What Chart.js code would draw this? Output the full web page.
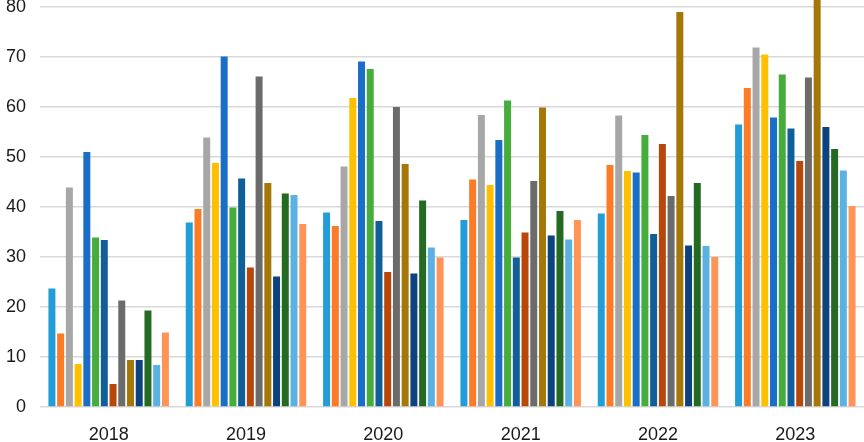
<!DOCTYPE html>
<html>
<head>
<meta charset="utf-8">
<script src="https://cdn.jsdelivr.net/npm/chart.js@4"></script>
<style>
  html, body { margin: 0; padding: 0; background: #fff; }
  #wrap { width: 864px; height: 442px; }
</style>
</head>
<body>
<div id="wrap"><canvas id="chart"></canvas></div>
<script>
const years = ['2018', '2019', '2020', '2021', '2022', '2023'];

// 14 series, one value per year
const s1  = [23.7, 36.9, 38.9, 37.4, 38.7, 56.5];
const s2  = [14.7, 39.6, 36.2, 45.5, 48.4, 63.8];
const s3  = [43.9, 53.9, 48.1, 58.4, 58.3, 71.9];
const s4  = [8.6, 48.8, 61.8, 44.4, 47.2, 70.5];
const s5  = [51.0, 70.1, 69.1, 53.4, 46.9, 57.9];
const s6  = [33.9, 39.9, 67.6, 61.3, 54.4, 66.5];
const s7  = [33.4, 45.7, 37.2, 29.9, 34.6, 55.7];
const s8  = [4.6, 27.9, 27.0, 34.9, 52.6, 49.2];
const s9  = [21.3, 66.1, 60.0, 45.2, 42.2, 65.9];
const s10 = [9.4, 44.8, 48.6, 59.9, 79.0, 81.6];
const s11 = [9.4, 26.1, 26.7, 34.3, 32.3, 56.0];
const s12 = [19.3, 42.7, 41.3, 39.2, 44.8, 51.6];
const s13 = [8.4, 42.4, 31.9, 33.5, 32.2, 47.3];
const s14 = [14.9, 36.6, 29.9, 37.4, 30.0, 40.2];

const seriesValues = [s1, s2, s3, s4, s5, s6, s7, s8, s9, s10, s11, s12, s13, s14];
const colors = [
  '#229dd8', '#fb7b26', '#a7a7a7', '#ffc000', '#1b6ec6', '#46ac3c', '#105f98',
  '#b8470a', '#6b6b6b', '#a47708', '#0c437f', '#246a22', '#5cb1e3', '#fe9456'
];

const ctx = document.getElementById('chart').getContext('2d');
new Chart(ctx, {
  type: 'bar',
  data: {
    labels: years,
    datasets: seriesValues.map((vals, i) => ({
      label: 'Series ' + (i + 1),
      data: vals,
      backgroundColor: colors[i],
      clip: false,
      barPercentage: 0.8,
      categoryPercentage: 0.89,
    })),
  },
  options: {
    responsive: true,
    maintainAspectRatio: false,
    animation: false,
    layout: { padding: { top: 7, right: 0, left: 0, bottom: 0 } },
    plugins: {
      legend: { display: false },
      tooltip: { enabled: false },
    },
    scales: {
      x: {
        grid: { display: false, drawTicks: false },
        border: { display: false },
        ticks: {
          color: '#1a1a1a',
          font: { family: 'Liberation Sans', size: 18 },
          padding: 17,
        },
        afterFit: (axis) => {
          axis.height = 35;
          axis.paddingLeft = 0;
          axis.paddingRight = 0;
        },
      },
      y: {
        min: 0,
        max: 80,
        grid: { color: '#d9d9d9', lineWidth: 1.5, drawTicks: false },
        border: { display: false },
        ticks: {
          stepSize: 10,
          color: '#1a1a1a',
          font: { family: 'Liberation Sans', size: 18 },
          padding: 14,
        },
        afterFit: (axis) => {
          axis.width = 40;
          axis.paddingTop = 0;
          axis.paddingBottom = 0;
        },
      },
    },
  },
});
</script>
</body>
</html>
